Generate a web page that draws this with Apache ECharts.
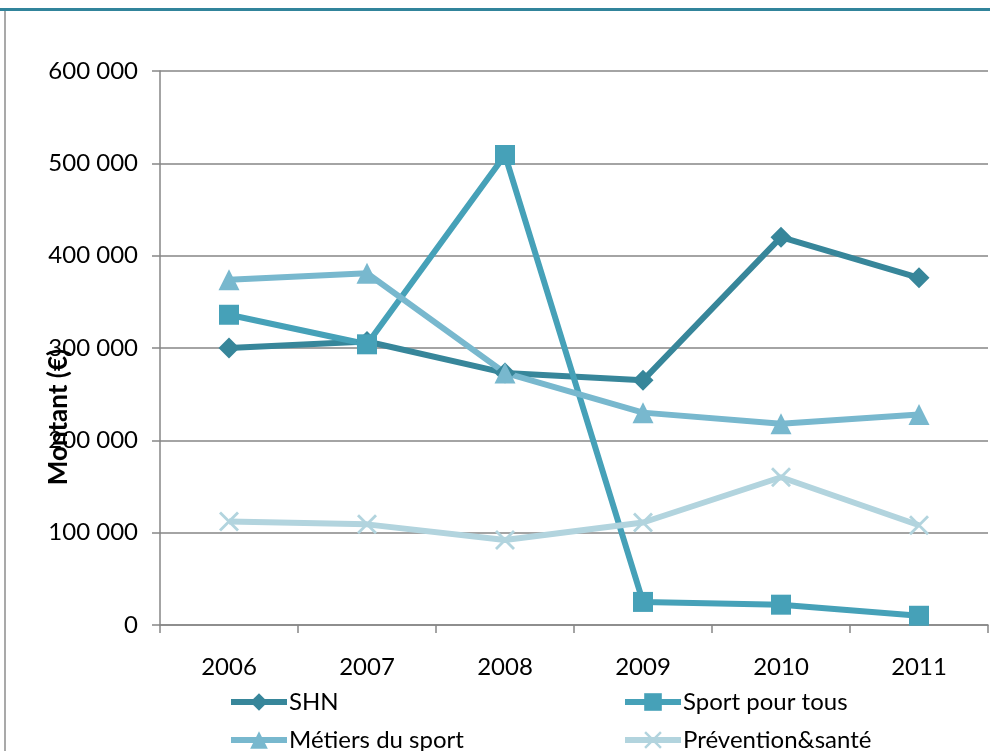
<!DOCTYPE html>
<html>
<head>
<meta charset="utf-8">
<script src="https://cdn.jsdelivr.net/npm/echarts@6/dist/echarts.min.js"></script>
<style>
  html, body { margin: 0; padding: 0; background: #fff; }
  #chart { width: 990px; height: 751px; }
</style>
</head>
<body>
<div id="chart"></div>
<script>
// Years on the category axis
const years = ['2006', '2007', '2008', '2009', '2010', '2011'];

// Amounts per programme (€)
const shn = [300000, 307000, 273000, 265000, 420000, 376000];
const sportPourTous = [336000, 304000, 509000, 25000, 22000, 10000];
const metiersDuSport = [374000, 381000, 273000, 230000, 218000, 228000];
const preventionSante = [112000, 109000, 92000, 111000, 160000, 108000];

const seriesNames = ['SHN', 'Sport pour tous', 'Métiers du sport', 'Prévention&santé'];
const yTicks = [0, 100000, 200000, 300000, 400000, 500000, 600000];

const FONT = 'Lato';
const FS = 24;
const crossPath = 'path://M0,1L1,0L10,9L9,10Z M9,0L10,1L1,10L0,9Z';

function fmt(v) {
  return String(v).replace(/\B(?=(\d{3})+(?!\d))/g, ' ');
}

function lineSeries(name, data, color, symbol, size) {
  return {
    name: name,
    type: 'line',
    data: data,
    symbol: symbol,
    symbolSize: size,
    showAllSymbol: true,
    lineStyle: { color: color, width: 6 },
    itemStyle: { color: color },
    emphasis: { disabled: true }
  };
}

// one legend block per entry, laid out in two columns
function legendEntry(name, left, top) {
  return {
    data: [name],
    left: left, top: top,
    padding: 0,
    itemWidth: 56, itemHeight: 22,
    lineStyle: { width: 6 },
    textStyle: { color: '#000', fontFamily: FONT, fontSize: FS, padding: [0, 0, 0, -3] },
    selectedMode: false
  };
}

const chart = echarts.init(document.getElementById('chart'), null, { renderer: 'canvas' });

chart.setOption({
  animation: false,
  backgroundColor: '#ffffff',
  grid: { left: 160, right: 2, top: 71, bottom: 126 },
  xAxis: {
    type: 'category',
    data: years,
    boundaryGap: true,
    axisLine: { lineStyle: { color: '#868686', width: 1.5 } },
    axisTick: { show: true, length: 8, lineStyle: { color: '#868686', width: 1.5 } },
    axisLabel: { color: '#000', fontFamily: FONT, fontSize: FS, margin: 30 }
  },
  yAxis: {
    type: 'value',
    min: yTicks[0],
    max: yTicks[yTicks.length - 1],
    interval: 100000,
    axisLine: { show: true, lineStyle: { color: '#868686', width: 1.5 } },
    axisTick: { show: true, length: 8, lineStyle: { color: '#868686', width: 1.5 } },
    splitLine: { lineStyle: { color: '#868686', width: 1.5 } },
    axisLabel: { color: '#000', fontFamily: FONT, fontSize: FS, margin: 22, formatter: fmt }
  },
  legend: [
    legendEntry(seriesNames[0], 228, 690),
    legendEntry(seriesNames[2], 228, 728),
    legendEntry(seriesNames[1], 622, 690),
    legendEntry(seriesNames[3], 622, 728)
  ],
  graphic: [
    { type: 'rect', shape: { x: 0, y: 8, width: 990, height: 3 }, style: { fill: '#31849B' }, silent: true },
    { type: 'line', shape: { x1: 5, y1: 11, x2: 5, y2: 751 }, style: { stroke: '#8c8c8c', lineWidth: 1.5 }, silent: true },
    {
      type: 'text', x: 59, y: 417, rotation: Math.PI / 2,
      style: { text: 'Montant (€)', fill: '#000', font: 'bold 26px Lato', align: 'center', verticalAlign: 'middle' },
      z: 10, silent: true
    }
  ],
  series: [
    lineSeries(seriesNames[0], shn, '#37869A', 'diamond', 21),
    lineSeries(seriesNames[1], sportPourTous, '#46A1B8', 'rect', 20),
    lineSeries(seriesNames[2], metiersDuSport, '#78B8CE', 'triangle', 21),
    lineSeries(seriesNames[3], preventionSante, '#B2D4DE', crossPath, 20)
  ]
});
</script>
</body>
</html>
